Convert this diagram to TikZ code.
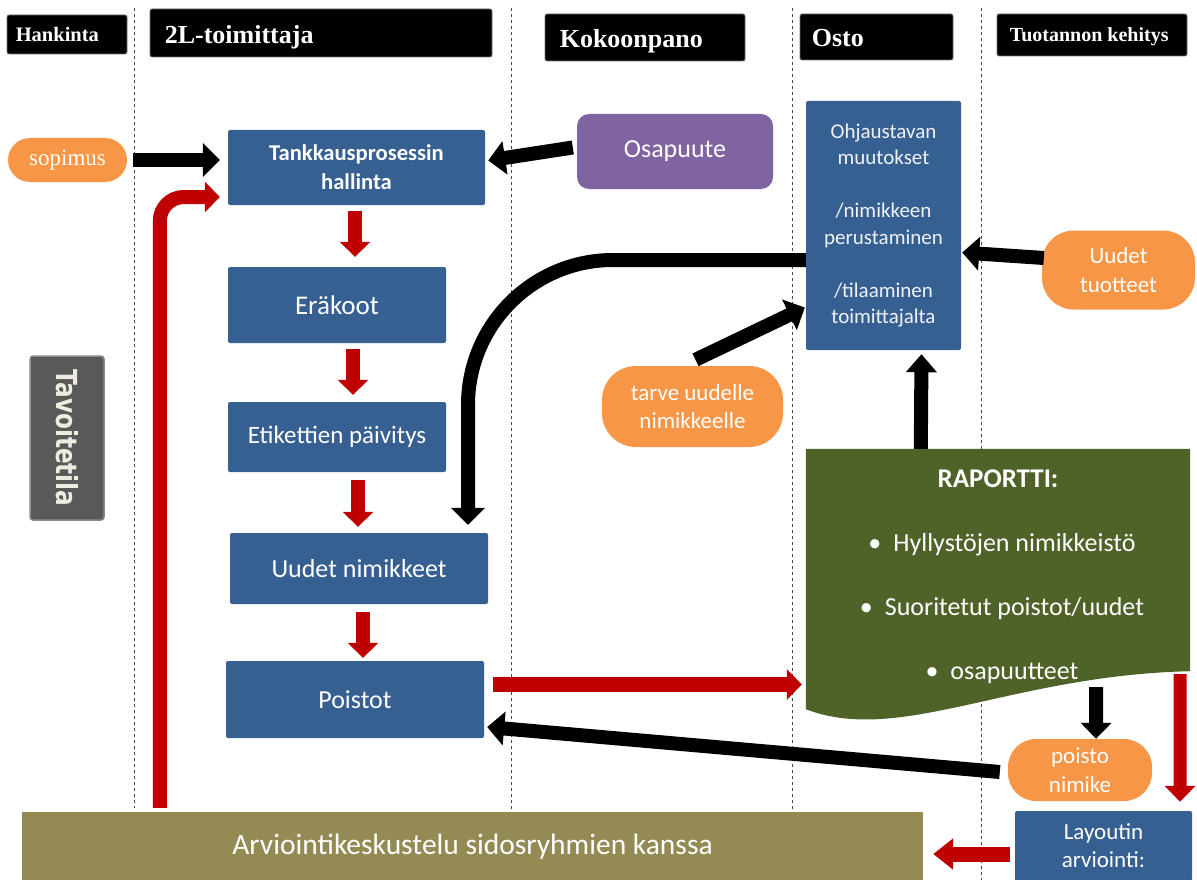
\documentclass[tikz,border=0pt]{standalone}
\usepackage{fontspec}
\setmainfont{Carlito}
\newfontfamily\tnr{Liberation Serif}
\newfontfamily\tavf[FakeStretch=0.8]{DejaVu Sans}
\usetikzlibrary{arrows.meta,calc}
\definecolor{blueC}{RGB}{55,96,146}
\definecolor{greenC}{RGB}{79,98,40}
\definecolor{oliveC}{RGB}{148,138,84}
\definecolor{orangeC}{RGB}{247,150,70}
\definecolor{purpleC}{RGB}{128,100,162}
\definecolor{redC}{RGB}{192,0,0}
\definecolor{grayC}{RGB}{89,89,89}
\definecolor{beigeC}{RGB}{238,236,225}
\definecolor{dashC}{RGB}{70,70,70}
\begin{document}
\begin{tikzpicture}[x=1pt,y=-1pt,
  hdr/.style={fill=black, draw=black!55, line width=0.8pt, rounded corners=2pt, inner sep=0pt},
  hdrt/.style={anchor=base west, text=white, inner sep=0pt},
  bbox/.style={fill=blueC, rounded corners=2pt, text=white, align=center, inner sep=0pt},
  pill/.style={fill=orangeC, text=white, align=center, inner sep=0pt},
  lane/.style={draw=dashC, line width=1pt, dash pattern=on 3pt off 3pt},
  blk/.style={line width=14pt, draw=black, -{Triangle[width=33pt,length=17pt]}},
  redw/.style={line width=14pt, draw=redC, -{Triangle[width=30pt,length=15pt]}}
]
\useasboundingbox (0,0) rectangle (1197,880);
\fill[white] (0,0) rectangle (1197,880);

% lanes
\draw[lane] (134,8) -- (134,808);
\draw[lane] (511,8) -- (511,812);
\draw[lane] (792,8) -- (792,812);
\draw[lane] (981,8) -- (981,880);

% headers
\node[hdr, minimum width=120pt, minimum height=39pt] (hHan) at (67,34.5) {};
\node[hdrt, font=\tnr\bfseries\fontsize{20.5}{22}\selectfont] (hHanT) at ($(hHan.west)+(9,7)$) {Hankinta};
\node[hdr, minimum width=342pt, minimum height=48pt] (hTo) at (321,33) {};
\node[hdrt, font=\tnr\bfseries\fontsize{26}{28}\selectfont] (hToT) at ($(hTo.west)+(15,11)$) {2L-toimittaja};
\node[hdr, minimum width=200pt, minimum height=47pt] (hKok) at (645,37.5) {};
\node[hdrt, font=\tnr\bfseries\fontsize{26}{28}\selectfont] (hKokT) at ($(hKok.west)+(15,10)$) {Kokoonpano};
\node[hdr, minimum width=153pt, minimum height=46pt] (hOs) at (876.5,37) {};
\node[hdrt, font=\tnr\bfseries\fontsize{26}{28}\selectfont] (hOsT) at ($(hOs.west)+(12,10)$) {Osto};
\node[hdr, minimum width=190pt, minimum height=42pt] (hTu) at (1092,35) {};
\node[hdrt, font=\tnr\bfseries\fontsize{20}{22}\selectfont] (hTuT) at ($(hTu.west)+(13,7)$) {Tuotannon kehitys};

% Tavoitetila
\node[fill=grayC, draw=black!45, line width=1.5pt, rounded corners=3pt, minimum width=74pt, minimum height=164pt, inner sep=0pt] (tav) at (67,438) {};
\node[rotate=-90, text=beigeC, font=\tavf\bfseries\fontsize{29}{30}\selectfont, inner sep=0pt] (tavt) at (tav.center) {Tavoitetila};

% process boxes
\node[bbox, minimum width=257pt, minimum height=75pt, font=\bfseries\fontsize{22.6}{29}\selectfont] (tank) at (356.5,167.5) {Tankkausprosessin\\hallinta};
\node[bbox, minimum width=218pt, minimum height=76pt, font=\fontsize{27}{30}\selectfont] (era) at (337,305) {Eräkoot};
\node[bbox, minimum width=218pt, minimum height=70pt, font=\fontsize{25}{30}\selectfont] (etik) at (337,437) {Etikettien päivitys};
\node[bbox, minimum width=258pt, minimum height=71pt, font=\fontsize{26}{30}\selectfont] (uud) at (359,568.5) {Uudet nimikkeet};
\node[bbox, minimum width=258pt, minimum height=77pt, font=\fontsize{26}{30}\selectfont] (poist) at (355,699.5) {Poistot};
\node[bbox, minimum width=155pt, minimum height=249pt, font=\fontsize{21}{26.5}\selectfont, text=white!92!blueC] (ohj) at (883.5,225.5) {Ohjaustavan\\muutokset\\[26.5pt]/nimikkeen\\perustaminen\\[26.5pt]/tilaaminen\\toimittajalta};
\node[bbox, minimum width=177pt, minimum height=70pt, font=\fontsize{23}{28}\selectfont] (lay) at (1103.5,846) {Layoutin\\arviointi:};
\node[fill=oliveC, text=white, inner sep=0pt, minimum width=901pt, minimum height=69pt, font=\fontsize{29.5}{32}\selectfont] (arv) at (472.5,846.5) {Arviointikeskustelu sidosryhmien kanssa};

% pills
\node[pill, rounded corners=22pt, minimum width=119pt, minimum height=44pt, font=\tnr\fontsize{23}{26}\selectfont] (sop) at (67.5,160) {sopimus};
\node[fill=purpleC, text=white, rounded corners=12pt, inner sep=0pt, minimum width=196pt, minimum height=75pt, font=\fontsize{26}{30}\selectfont] (osa) at (675,151.5) {Osapuute};
\node[pill, rounded corners=32pt, minimum width=153pt, minimum height=79pt, font=\fontsize{23}{29}\selectfont] (ut) at (1118.5,270) {Uudet\\tuotteet};
\node[pill, rounded corners=34pt, minimum width=181pt, minimum height=81pt, font=\fontsize{23}{28}\selectfont] (tarve) at (692.5,406.5) {tarve uudelle\\nimikkeelle};
\node[pill, rounded corners=28pt, minimum width=144pt, minimum height=62pt, font=\fontsize{23}{29}\selectfont] (pn) at (1080,770) {poisto\\nimike};

% raportti document
\node[inner sep=0pt, minimum width=384pt, minimum height=222pt] (rap) at (998,560) {};
\fill[greenC] ($(rap.south west)+(0,38)$) -- (rap.north west) -- (rap.north east) -- (rap.south east)
  .. controls ($(rap.south east)+(-180,4)$) and ($(rap.south west)+(94,74)$) .. ($(rap.south west)+(0,38)$) -- cycle;
\node[text=white, font=\bfseries\fontsize{27}{30}\selectfont, inner sep=0pt] (rapT) at (998,479) {RAPORTTI:};
\node[text=white, font=\fontsize{26}{30}\selectfont, inner sep=0pt] (rap1) at (1002,545) {•\hspace{12pt}Hyllystöjen nimikkeistö};
\node[text=white, font=\fontsize{26}{30}\selectfont, inner sep=0pt] (rap2) at (1002,609) {•\hspace{12pt}Suoritetut poistot/uudet};
\node[text=white, font=\fontsize{26}{30}\selectfont, inner sep=0pt] (rap3) at (1002,673) {•\hspace{12pt}osapuutteet};

% black arrows
\draw[blk] ($(sop.east)+(6,0)$) -- ($(sop.east -| tank.west)+(-8,0)$);
\draw[blk] ($(osa.west)+(-4,-4)$) -- ($(tank.east)+(3,-7)$);
\draw[blk, rounded corners=145pt] ($(ohj.west)+(0,34.5)$) -| ($(uud.north)+(109,-8)$);
\draw[blk] ($(ut.west)+(2,-12)$) -- ($(ohj.east)+(1,27)$);
\draw[blk] ($(tarve.north)+(3,-6)$) -- ($(ohj.west)+(-1,82)$);
\draw[blk, -{Triangle[width=30pt,length=18pt]}] ($(rap.north west)+(115,0)$) -- ($(ohj.south)+(38,4)$);
\draw[blk, -{Triangle[width=30pt,length=16pt]}] ($(rap.south east)+(-94,16)$) -- ($(pn.north)+(16,0)$);
\draw[blk] ($(pn.west)+(-8,2)$) -- ($(poist.east)+(3,27.5)$);

% red arrows
\draw[redw, rounded corners=24pt] ($(arv.north west)+(138,-4)$) |- ($(tank.west)+(-8,29.5)$);
\draw[redw] ($(tank.south)+(-1.5,6)$) -- ($(tank.south |- era.north)+(-1.5,-10)$);
\draw[redw] ($(era.south)+(16,6)$) -- ($(era.south |- etik.north)+(16,-7)$);
\draw[redw] ($(etik.south)+(21,8)$) -- ($(etik.south |- uud.north)+(21,-6)$);
\draw[redw] ($(uud.south)+(4,8)$) -- ($(uud.south |- poist.north)+(4,-3)$);
\draw[redw, line width=15pt] ($(poist.east)+(9,-15)$) -- ($(poist.east -| rap.west)+(-4,-15)$);
\draw[redw, line width=13pt, -{Triangle[width=30pt,length=16pt]}] ($(rap.south east)+(-10,3)$) -- ($(lay.north)+(76.5,-9)$);
\draw[redw, line width=15pt, -{Triangle[width=30pt,length=20pt]}] ($(lay.west)+(-5,8)$) -- ($(arv.east)+(10,7.5)$);
\end{tikzpicture}
\end{document}
